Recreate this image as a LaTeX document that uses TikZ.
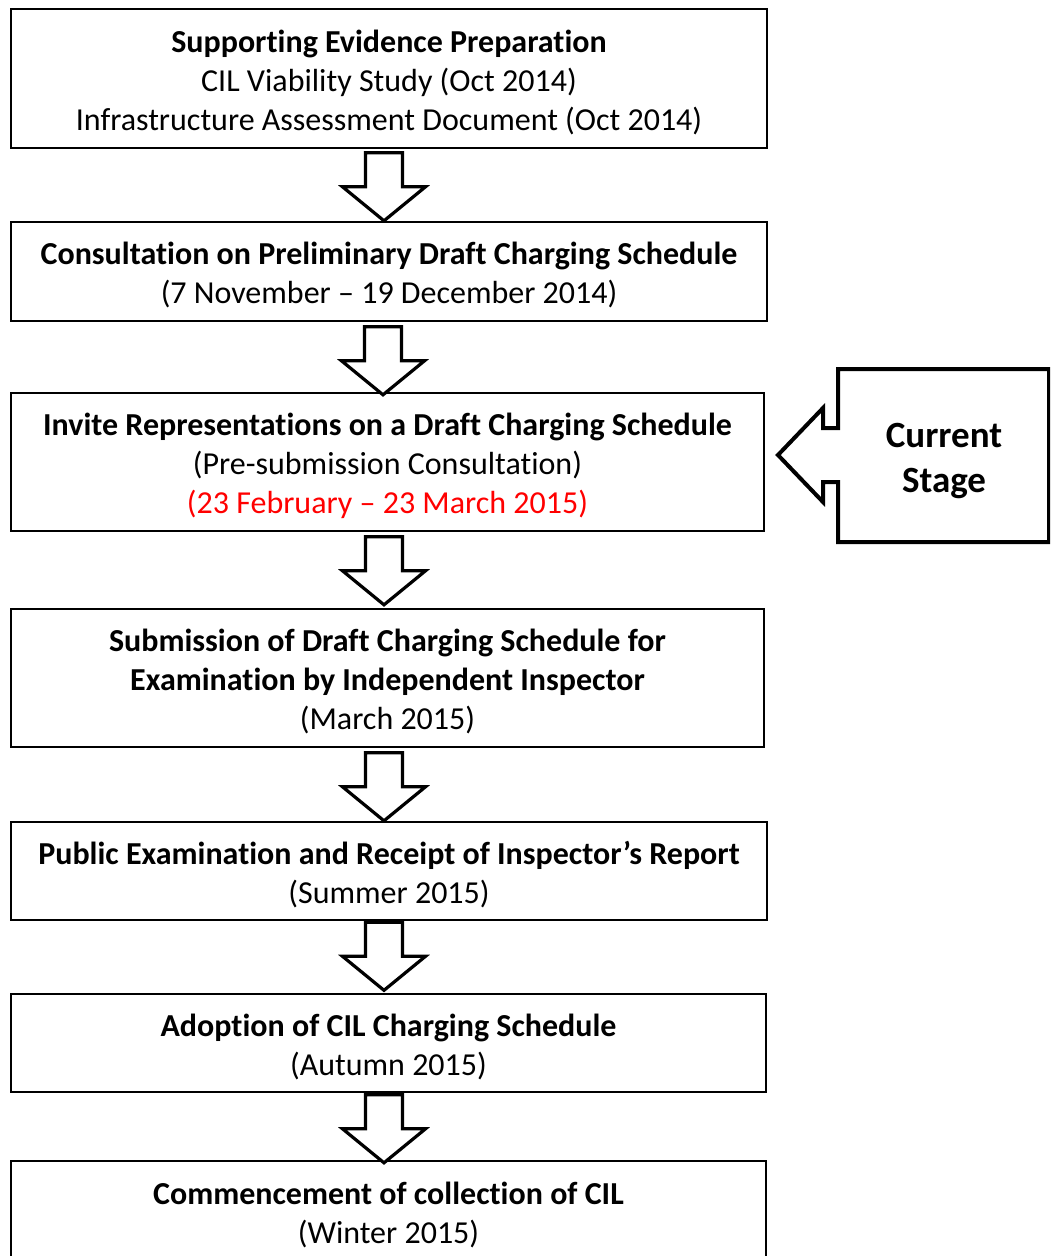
\documentclass[tikz,border=0pt]{standalone}
\usepackage{fontspec}
\setmainfont{Carlito}[Ligatures={NoCommon}]
\usetikzlibrary{calc}
\definecolor{stagered}{RGB}{255,0,0}
\tikzset{
  stagebox/.style={draw=black, line width=1.6pt, minimum width=756pt, inner sep=0pt},
  stagetext/.style={align=center, inner sep=0pt, font=\fontsize{32}{39}\selectfont},
  blockarrow/.style={draw=black, line width=3.2pt, fill=white, line join=miter},
  stagearrow/.style={draw=black, line width=4pt, fill=white, line join=miter},
}
\newcommand{\downarrowblock}[1]{%
  \draw[blockarrow] (#1) +(-18.5,0) -- +(18.5,0) -- +(18.5,34) -- +(41.5,34) -- +(0,68) -- +(-41.5,34) -- +(-18.5,34) -- cycle;}
\begin{document}
\begin{tikzpicture}[x=1pt,y=-1pt]
\path[use as bounding box, clip] (0,0) rectangle (1050,1256);
\fill[white] (0,0) rectangle (1050,1256);

\node[stagebox, minimum height=139pt] (b1) at (389,78.5) {};
\node[stagetext] (b1t) at ($(b1.center)+(0,3.5)$)
  {\textbf{Supporting Evidence Preparation}\\CIL Viability Study (Oct 2014)\\Infrastructure Assessment Document (Oct 2014)};
\node[stagebox, minimum height=99pt] (b2) at (389,271.5) {};
\node[stagetext] (b2t) at ($(b2.center)+(0,3.5)$)
  {\textbf{Consultation on Preliminary Draft Charging Schedule}\\(7 November -- 19 December 2014)};
\node[stagebox, minimum height=138pt, minimum width=753pt] (b3) at (387.5,462) {};
\node[stagetext] (b3t) at ($(b3.center)+(0,3.5)$)
  {\textbf{Invite Representations on a Draft Charging Schedule}\\(Pre-submission Consultation)\\\textcolor{stagered}{(23 February -- 23 March 2015)}};
\node[stagebox, minimum height=138pt, minimum width=753pt] (b4) at (387.5,678) {};
\node[stagetext] (b4t) at ($(b4.center)+(0,3.5)$)
  {\textbf{Submission of Draft Charging Schedule for}\\\textbf{Examination by Independent Inspector}\\(March 2015)};
\node[stagebox, minimum height=98pt] (b5) at (389,871) {};
\node[stagetext] (b5t) at ($(b5.center)+(0,3.5)$)
  {\textbf{Public Examination and Receipt of Inspector’s Report}\\(Summer 2015)};
\node[stagebox, minimum height=98pt, minimum width=755pt] (b6) at (388.5,1043) {};
\node[stagetext] (b6t) at ($(b6.center)+(0,3.5)$)
  {\textbf{Adoption of CIL Charging Schedule}\\(Autumn 2015)};
\node[stagebox, minimum height=120pt, minimum width=755pt] (b7) at (388.5,1221) {};
\node[stagetext] (b7t) at (388.5,1214.5)
  {\textbf{Commencement of collection of CIL}\\(Winter 2015)};

\coordinate (a1) at ($(b1.south)+(-5,4)$);
\coordinate (a2) at ($(b2.south)+(-6,5)$);
\coordinate (a3) at ($(b3.south)+(-3.5,5)$);
\coordinate (a4) at ($(b4.south)+(-3.5,5)$);
\coordinate (a5) at ($(b5.south)+(-5,1.5)$);
\coordinate (a6) at ($(b6.south)+(-4.5,2)$);
\downarrowblock{a1}
\downarrowblock{a2}
\downarrowblock{a3}
\downarrowblock{a4}
\downarrowblock{a5}
\downarrowblock{a6}

\draw[stagearrow] (1052,369) -- (838,369) -- (838,428) -- (823,428) -- (823,408) -- (778,455)
  -- (823,502) -- (823,482) -- (838,482) -- (838,542) -- (1049,542) -- (1049,369);
\node[font=\fontsize{37}{45}\selectfont\bfseries, align=center] (cs) at (944,461) {Current\\Stage};
\end{tikzpicture}
\end{document}
